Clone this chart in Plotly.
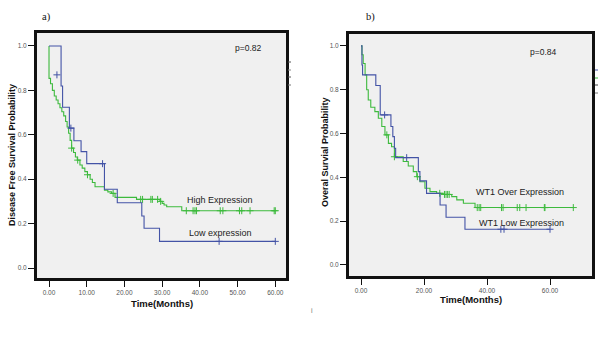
import plotly.graph_objects as go

W, H = 615, 338

# ---------------- data ----------------
# a) Disease free survival
low_a_times = [3.2, 3.6, 5.4, 6.6, 8.5, 10.0, 14.7, 18.1, 24.6, 25.2, 29.3]
low_a_surv = [0.82, 0.724, 0.63, 0.573, 0.524, 0.47, 0.355, 0.294, 0.234, 0.179, 0.12]
low_a_censor = [5.8, 14.2, 45.1, 60.0]
low_a_end = 60.0
low_a_extra_t = [2.1]
low_a_extra_s = [0.87]

high_a_times = [0.0, 0.4, 0.9, 1.4, 1.9, 2.4, 2.9, 3.4, 3.9, 4.4, 4.8, 5.2, 5.6, 6.0,
                6.5, 7.0, 7.5, 8.2, 8.8, 9.5, 10.2, 10.9, 11.5, 12.2, 14.7, 15.6,
                16.6, 17.5, 23.2, 29.4, 30.0, 30.5, 31.2, 35.2]
high_a_surv = [0.854, 0.83, 0.80, 0.775, 0.757, 0.74, 0.722, 0.704, 0.685, 0.66, 0.635,
               0.607, 0.575, 0.54, 0.52, 0.50, 0.486, 0.464, 0.45, 0.434, 0.42, 0.40,
               0.385, 0.366, 0.35, 0.343, 0.336, 0.318, 0.309, 0.30, 0.291, 0.284,
               0.276, 0.258]
high_a_censor = [6.0, 7.6, 10.2, 17.0, 24.3, 24.8, 27.0, 27.4, 28.8, 29.6, 36.4, 38.2,
                 38.7, 39.1, 45.4, 46.1, 50.5, 51.1, 53.3, 59.7, 60.0]
high_a_end = 60.0

# b) Overall survival
low_b_times = [0.3, 0.5, 4.7, 6.1, 9.5, 10.1, 10.6, 11.0, 18.2, 18.7, 20.8, 25.1, 27.0, 33.0]
low_b_surv = [0.913, 0.868, 0.819, 0.685, 0.632, 0.586, 0.533, 0.49, 0.426, 0.384,
              0.327, 0.274, 0.218, 0.163]
low_b_censor = [7.5, 14.5, 44.4, 45.4, 60.0]
low_b_end = 60.0

over_b_times = [0.3, 0.7, 1.3, 1.8, 2.3, 3.1, 4.4, 5.5, 6.6, 7.6, 8.7, 9.7, 10.6, 13.4,
                15.0, 16.6, 17.7, 18.7, 20.3, 21.9, 24.0, 26.1, 28.8, 30.4, 32.5, 36.2]
over_b_surv = [0.96, 0.92, 0.868, 0.80, 0.753, 0.72, 0.70, 0.67, 0.632, 0.594, 0.555,
               0.54, 0.494, 0.472, 0.452, 0.426, 0.403, 0.38, 0.35, 0.335, 0.327, 0.322,
               0.312, 0.297, 0.282, 0.262]
over_b_censor = [8.2, 10.6, 17.9, 25.0, 26.5, 27.0, 27.5, 28.0, 36.9, 37.5, 38.0, 44.6,
                 45.1, 49.6, 50.4, 52.4, 58.2, 58.4, 67.4]
over_b_end = 67.4

y_ticks = [0.0, 0.2, 0.4, 0.6, 0.8, 1.0]
x_ticks_a = [0, 10, 20, 30, 40, 50, 60]
x_ticks_b = [0, 20, 40, 60]

BLUE = "#4353a6"
GREEN = "#3dba3d"


def km_path(times, surv, end):
    xs, ys = [0.0], [1.0]
    for t, s in zip(times, surv):
        xs.append(t)
        ys.append(s)
    xs.append(end)
    ys.append(surv[-1])
    return xs, ys


def km_at(times, surv, t):
    val = 1.0
    for ti, si in zip(times, surv):
        if ti <= t:
            val = si
    return val


def px(x):
    return x / W


def py(y):
    return 1 - y / H


fig = go.Figure()


def add_curve(times, surv, end, censor, color, xa, ya):
    xs, ys = km_path(times, surv, end)
    fig.add_trace(go.Scatter(x=xs, y=ys, mode="lines", line=dict(color=color, width=1.1, shape="hv"),
                             xaxis=xa, yaxis=ya, hoverinfo="skip"))
    cy = [km_at(times, surv, t) for t in censor]
    fig.add_trace(go.Scatter(x=censor, y=cy, mode="markers",
                             marker=dict(symbol="cross-thin", size=5, line=dict(color=color, width=1)),
                             xaxis=xa, yaxis=ya, hoverinfo="skip"))


add_curve(high_a_times, high_a_surv, high_a_end, high_a_censor, GREEN, "x", "y")
add_curve(low_a_times, low_a_surv, low_a_end, low_a_censor, BLUE, "x", "y")
fig.add_trace(go.Scatter(x=low_a_extra_t, y=low_a_extra_s, mode="markers",
                         marker=dict(symbol="cross-thin", size=5, line=dict(color=BLUE, width=1)),
                         xaxis="x", yaxis="y", hoverinfo="skip"))
add_curve(over_b_times, over_b_surv, over_b_end, over_b_censor, GREEN, "x2", "y2")
add_curve(low_b_times, low_b_surv, low_b_end, low_b_censor, BLUE, "x2", "y2")

tickfont = dict(family="Liberation Sans, Arial", size=6.5, color="#555555")
axis_common = dict(showline=True, linecolor="#111111", linewidth=2, mirror=True,
                   ticks="outside", ticklen=6, tickwidth=1.3, tickcolor="#111111",
                   showgrid=False, zeroline=False, tickfont=tickfont)

# frame a: x 36..287, y 32..279 ; frame b: x 348..593, y 33..277
FA = (36, 287, 32, 279)
FB = (348, 593, 33, 277)

fig.update_layout(
    template="none",
    width=W, height=H, margin=dict(l=0, r=0, t=0, b=0),
    paper_bgcolor="white", plot_bgcolor="#f0f0f0", showlegend=False,
    xaxis=dict(domain=[px(FA[0]), px(FA[1])], range=[-3.45, 63.1], tickvals=x_ticks_a,
               tickformat=".2f", anchor="y", **axis_common),
    yaxis=dict(domain=[py(FA[3]), py(FA[2])], range=[-0.0495, 1.063], tickvals=y_ticks,
               tickformat=".1f", anchor="x", **axis_common),
    xaxis2=dict(domain=[px(FB[0]), px(FB[1])], range=[-4.13, 73.65], tickvals=x_ticks_b,
                tickformat=".2f", anchor="y2", **axis_common),
    yaxis2=dict(domain=[py(FB[3]), py(FB[2])], range=[-0.055, 1.059], tickvals=y_ticks,
                tickformat=".1f", anchor="x2", **axis_common),
)

# plot frames drawn on top of the data
for (x0, x1, y0, y1) in (FA, FB):
    fig.add_shape(type="rect", xref="paper", yref="paper", layer="above",
                  x0=px(x0), x1=px(x1), y0=py(y1), y1=py(y0),
                  line=dict(color="#111111", width=2), fillcolor="rgba(0,0,0,0)")

txt = dict(family="Liberation Sans, Arial", color="#222222")
bold = dict(family="Liberation Sans, Arial", color="#111111", size=9.5)


def note(x, y, text, font, **kw):
    fig.add_annotation(x=px(x), y=py(y), xref="paper", yref="paper", text=text,
                       xanchor="center", yanchor="middle",
                       showarrow=False, font=font, **kw)


# panel labels
note(47, 17, "a)", dict(family="Liberation Serif, Times New Roman", size=10.5, color="#111111"))
note(370, 17, "b)", dict(family="Liberation Serif, Times New Roman", size=10.5, color="#111111"))

# p-values and curve labels
note(248, 48, "p=0.82", dict(size=8.5, **txt))
note(543, 52, "p=0.84", dict(size=8.5, **txt))
note(220, 200, "High Expression", dict(size=9, **txt))
note(220, 233, "Low expression", dict(size=9, **txt))
note(520, 192, "WT1 Over Expression", dict(size=9, **txt))
note(521, 223, "WT1 Low Expression", dict(size=9, **txt))

# axis titles
note(162, 303, "<b>Time(Months)</b>", bold)
note(471, 299, "<b>Time(Months)</b>", bold)
note(12, 155, "<b>Disease Free Survival Probability</b>", dict(bold, size=9), textangle=-90)
note(325, 152, "<b>Overal Survial Probability</b>", dict(bold, size=9), textangle=-90)

# stray mark below panel b
note(312, 310, "i", dict(family="Liberation Sans, Arial", size=7, color="#777777"))

# small legend remnants to the right of each frame
for (x0, ys, cols) in [(288, [62, 70, 77, 85], ["#555", "#888", "#555", "#777"]),
                       (595, [70, 78, 85, 93], [BLUE, GREEN, "#444", "#777"])]:
    for yy, c in zip(ys, cols):
        fig.add_shape(type="line", xref="paper", yref="paper",
                      x0=px(x0), x1=px(x0 + 3), y0=py(yy), y1=py(yy),
                      line=dict(color=c, width=1))

fig.write_html("out.html")
